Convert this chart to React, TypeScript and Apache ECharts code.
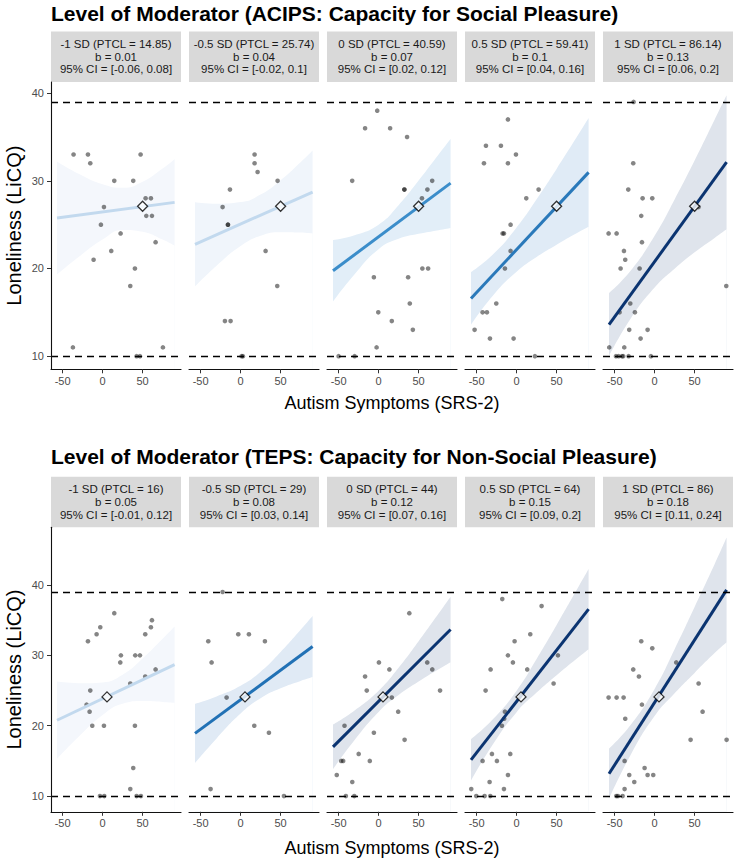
import React, { useEffect, useRef } from "react";
import * as echarts from "echarts";

// ---------- shared scales ----------
const X_TICKS = [-50, 0, 50];
const Y_TICKS = [10, 20, 30, 40];
const BAND_X = [-57, -30, 0, 25, 50, 75, 90];
const LINE_X = [-57, 90];
const REF_LINES = [10, 39];

// ---------- ACIPS row ----------
const ACIPS_TITLE = "Level of Moderator (ACIPS: Capacity for Social Pleasure)";
const ACIPS_LEVEL = ["-1 SD (PTCL = 14.85)", "-0.5 SD (PTCL = 25.74)", "0 SD (PTCL = 40.59)", "0.5 SD (PTCL = 59.41)", "1 SD (PTCL = 86.14)"];
const ACIPS_B = ["b = 0.01", "b = 0.04", "b = 0.07", "b = 0.1", "b = 0.13"];
const ACIPS_CI = ["95% CI = [-0.06, 0.08]", "95% CI = [-0.02, 0.1]", "95% CI = [0.02, 0.12]", "95% CI = [0.04, 0.16]", "95% CI = [0.06, 0.2]"];
const ACIPS_X = [
  [-36.3, -18.3, -15.4, 14.6, 38.3, 47.5, 1.7, -2.1, 53.75, 60.4, 54.6, 61.7, 22.5, 10.8, -11.25, 66.25, 40.4, 34.6, -37.1, 75.4, 42.5, 46.7],
  [17.5, 17.5, 21.25, -13.3, 46.25, -22.5, -15.8, -15.8, 31.25, 45.8, -19.6, -12.5, 1.25, 2.9],
  [-1.7, -16.9, 14.4, 35.6, -33, 32.2, 32.2, 61, 67, 54.2, 54.7, 61.9, -5.9, 36.9, 39, -0.4, 16.5, 42.8, -2.5, -50, -30],
  [-10.8, -38.3, -19.6, -40.8, -10.8, -0.8, 27.5, 12.1, -7.5, -17.5, -15.8, -7.5, -14.6, -25.4, -42.5, -37.1, -52.5, -33.3, -3.75, 22.9],
  [-26.25, -26.7, -32.9, -15, -2.9, -16.7, -57.5, -47.5, -15.8, -38.3, -36.7, -42.5, -18.75, 89.6, -30.4, -43.75, -24.6, -31.7, -8.75, -17.5, -56.7, -37.9, -48.3, -45, -40.8, -39.2, -32.5, -4.6, 55],
];
const ACIPS_Y = [
  [33, 33, 32, 30, 30, 33, 27, 25, 28, 28, 26, 26, 24, 22, 21, 23, 20, 18, 11, 11, 10, 10],
  [33, 32, 31, 29, 30, 27, 25, 25, 22, 18, 14, 14, 10, 10],
  [38, 36, 36, 35, 30, 29, 29, 29, 30, 28, 20, 20, 19, 19, 16, 15, 14, 13, 11, 10, 10],
  [37, 34, 34, 32, 32, 33, 29, 28, 25, 24, 24, 22, 20, 16, 15, 15, 13, 12, 12, 10],
  [39, 32, 29, 28, 28, 26, 24, 24, 23, 22, 21, 20, 20, 18, 16, 15, 15, 13, 13, 12, 11, 11, 10, 10, 10, 10, 10, 10, 27],
];
const ACIPS_LINE = [[25.75, 27.54], [22.75, 28.72], [19.74, 29.74], [16.58, 30.96], [13.6, 32.12]];
const ACIPS_BAND_UP = [
  [32.2, 30.8, 29.6, 29.2, 29.9, 31.4, 32.5],
  [27.55, 27.38, 27.57, 28.43, 30.07, 32.13, 33.46],
  [23.26, 23.8, 25.0, 27.22, 30.03, 33.01, 34.78],
  [19.58, 21.57, 24.67, 27.89, 31.36, 34.96, 37.16],
  [17.18, 19.73, 23.73, 27.88, 32.32, 36.97, 39.76],
];
const ACIPS_BAND_LO = [
  [19.3, 21.3, 23.3, 24.4, 24.2, 23.3, 22.6],
  [17.95, 20.32, 22.57, 23.73, 24.13, 24.09, 23.98],
  [16.22, 19.34, 22.2, 23.38, 23.95, 24.37, 24.62],
  [13.58, 16.87, 19.63, 21.31, 22.72, 24.02, 24.76],
  [10.02, 14.27, 17.83, 19.98, 21.84, 23.49, 24.48],
];
const ACIPS_MEAN = [50, 27.1];
const ACIPS_LINE_COLORS = ["#c2d9ee", "#c2d9ee", "#3b8dca", "#2a79ba", "#0b3471"];
const ACIPS_BAND_COLORS = ["#f4f7fc", "#f0f5fb", "#e2eef8", "#e0ebf6", "#dfe4ec"];

// ---------- TEPS row ----------
const TEPS_TITLE = "Level of Moderator (TEPS: Capacity for Non-Social Pleasure)";
const TEPS_LEVEL = ["-1 SD (PTCL = 16)", "-0.5 SD (PTCL = 29)", "0 SD (PTCL = 44)", "0.5 SD (PTCL = 64)", "1 SD (PTCL = 86)"];
const TEPS_B = ["b = 0.05", "b = 0.08", "b = 0.12", "b = 0.15", "b = 0.18"];
const TEPS_CI = ["95% CI = [-0.01, 0.12]", "95% CI = [0.03, 0.14]", "95% CI = [0.07, 0.16]", "95% CI = [0.09, 0.2]", "95% CI = [0.11, 0.24]"];
const TEPS_X = [
  [14.6, 61.7, 60.4, -2.9, -7.5, 53.3, -18.3, 22.9, 40.8, 46.7, 22.1, 66.25, 53.3, 34.6, -15.4, -20, -16.25, -12.9, 1.7, 40.4, 38.3, 34.6, -3.3, 2.1, 42.5, 47.9],
  [-22.5, -40.4, -2.9, 10.4, 30.4, -36.25, -17.5, 17.1, 35.4, -37.5, 54.2],
  [38.4, 0.4, 60.8, 13.5, 67.1, -16.9, -14.8, 76.8, 16.5, 24.5, -42.6, -5.9, 32.5, -24.9, -46.8, -44.3, -11, -52.3, -32.9, -40.9, -30.4],
  [-17.9, 31.25, 17.1, -2.5, -10.8, -4.6, 51.7, -32.5, 13.3, 46.25, -38.75, -14.6, -15.5, -18.4, -30.8, -7.9, -42.5, -24.6, -10.8, -33.75, -56.7, -15.8, -50.4, -40, -32.9],
  [-16.7, -2.9, 27.1, -26.7, -19.6, 55, -57.5, -47.5, -38.75, -15.8, 60, -36.7, 45, 90, -37.5, -12.5, -31.7, -8.75, -1.7, -25.4, -37.5, -47.9, -45.8, -40],
];
const TEPS_Y = [
  [36, 35, 34, 34, 33, 33, 32, 30, 30, 30, 29, 28, 27, 26, 25, 23, 22, 20, 20, 20, 14, 11, 10, 10, 10, 10],
  [39, 32, 33, 33, 32, 29, 24, 20, 19, 11, 10],
  [36, 29, 29, 28, 28, 27, 25, 25, 24, 22, 20, 19, 18, 16, 15, 15, 15, 13, 12, 10, 10],
  [38, 37, 33, 32, 30, 29, 30, 28, 28, 26, 25, 22, 21, 20, 16, 16, 15, 15, 13, 12, 11, 11, 10, 10, 10],
  [32, 31, 29, 28, 27, 26, 24, 24, 24, 23, 22, 21, 18, 18, 15, 14, 13, 13, 13, 12, 11, 10, 10, 10],
];
const TEPS_LINE = [[20.78, 28.68], [18.91, 31.26], [17.0, 33.68], [15.14, 36.58], [13.17, 39.3]];
const TEPS_BAND_UP = [
  [26.27, 26.04, 26.16, 27.25, 29.56, 32.35, 34.1],
  [23.11, 24.16, 25.67, 27.68, 30.48, 33.64, 35.61],
  [20.17, 22.17, 24.97, 28.24, 32.01, 35.95, 38.34],
  [18.08, 20.87, 24.99, 29.49, 34.32, 39.29, 42.29],
  [16.74, 20.1, 25.23, 30.87, 36.87, 42.94, 46.74],
];
const TEPS_BAND_LO = [
  [15.29, 18.42, 21.52, 23.11, 23.5, 23.39, 23.26],
  [14.71, 18.2, 21.73, 23.92, 25.32, 26.36, 26.91],
  [13.83, 17.97, 21.97, 24.36, 26.27, 28.01, 29.02],
  [12.2, 17.29, 21.93, 24.71, 27.18, 29.51, 30.87],
  [9.6, 15.84, 21.37, 24.61, 27.51, 30.32, 31.86],
];
const TEPS_MEAN = [5.5, 24.1];
const TEPS_LINE_COLORS = ["#c2d9ee", "#2171b5", "#0b3471", "#0b3471", "#0b3471"];
const TEPS_BAND_COLORS = ["#f4f7fc", "#e0eaf5", "#dfe4ec", "#dfe4ec", "#dfe4ec"];

const X_AXIS_TITLE = "Autism Symptoms (SRS-2)";
const Y_AXIS_TITLE = "Loneliness (LiCQ)";

// ---------- layout ----------
const FONT = '"Liberation Sans", Arial, Helvetica, sans-serif';
const PANEL_LEFTS = [51, 189, 327, 465, 603];
const PANEL_W = 130;
const ROWS = [
  { top: 82, height: 287.3, yMin: 8.5, yMax: 41.27, stripTop: 31.5, titleY: 13, xTitleY: 403 },
  { top: 527.3, height: 284.5, yMin: 7.77, yMax: 48.2, stripTop: 476.7, titleY: 456.5, xTitleY: 848 },
];

function buildOption() {
  const rowsData = [
    { title: ACIPS_TITLE, level: ACIPS_LEVEL, b: ACIPS_B, ci: ACIPS_CI, xs: ACIPS_X, ys: ACIPS_Y, line: ACIPS_LINE, up: ACIPS_BAND_UP, lo: ACIPS_BAND_LO, mean: ACIPS_MEAN, lc: ACIPS_LINE_COLORS, bc: ACIPS_BAND_COLORS },
    { title: TEPS_TITLE, level: TEPS_LEVEL, b: TEPS_B, ci: TEPS_CI, xs: TEPS_X, ys: TEPS_Y, line: TEPS_LINE, up: TEPS_BAND_UP, lo: TEPS_BAND_LO, mean: TEPS_MEAN, lc: TEPS_LINE_COLORS, bc: TEPS_BAND_COLORS },
  ];
  const grid: any[] = [];
  const xAxis: any[] = [];
  const yAxis: any[] = [];
  const series: any[] = [];
  const graphics: any[] = [];

  rowsData.forEach((rd, r) => {
    const row = ROWS[r];
    graphics.push({
      type: "text", x: 51, y: row.titleY, z: 10,
      style: { text: rd.title, fontFamily: FONT, fontSize: 21, fontWeight: "bold", fill: "#000", align: "left", verticalAlign: "middle" },
    });
    graphics.push({
      type: "text", x: 392, y: row.xTitleY, z: 10,
      style: { text: X_AXIS_TITLE, fontFamily: FONT, fontSize: 18, fill: "#000", align: "center", verticalAlign: "middle" },
    });
    graphics.push({
      type: "text", x: 14, y: row.top + row.height / 2, rotation: Math.PI / 2, z: 10,
      style: { text: Y_AXIS_TITLE, fontFamily: FONT, fontSize: 20, fill: "#000", align: "center", verticalAlign: "middle" },
    });

    for (let p = 0; p < 5; p++) {
      const idx = r * 5 + p;
      const left = PANEL_LEFTS[p];
      graphics.push({
        type: "rect", z: 5,
        shape: { x: left, y: row.stripTop, width: PANEL_W, height: row.top - row.stripTop },
        style: { fill: "#d9d9d9" },
      });
      graphics.push({
        type: "text", x: left + PANEL_W / 2, y: (row.stripTop + row.top) / 2, z: 6,
        style: {
          text: [rd.level[p], rd.b[p], rd.ci[p]].join("\n"),
          fontFamily: FONT, fontSize: 11.5, lineHeight: 12.6, fill: "#1a1a1a", align: "center", verticalAlign: "middle",
        },
      });

      grid.push({ left, top: row.top, width: PANEL_W, height: row.height, containLabel: false, outerBoundsMode: "none" });
      xAxis.push({
        type: "value", gridIndex: idx, min: -64.5, max: 98, z: 10,
        axisLine: { show: true, onZero: false, lineStyle: { color: "#111", width: 1.1 } },
        axisTick: { show: true, customValues: X_TICKS, length: 4, lineStyle: { color: "#333", width: 1 } },
        axisLabel: { show: true, customValues: X_TICKS, margin: 6, color: "#4d4d4d", fontSize: 11, fontFamily: FONT },
        splitLine: { show: false },
      });
      yAxis.push({
        type: "value", gridIndex: idx, min: row.yMin, max: row.yMax, show: p === 0, z: 10,
        axisLine: { show: p === 0, onZero: false, lineStyle: { color: "#111", width: 1.1 } },
        axisTick: { show: p === 0, customValues: Y_TICKS, length: 4, lineStyle: { color: "#333", width: 1 } },
        axisLabel: { show: p === 0, customValues: Y_TICKS, margin: 7, color: "#4d4d4d", fontSize: 11, fontFamily: FONT },
        splitLine: { show: false },
      });

      // confidence band: upper curve filled down to the axis floor, then lower curve blanked out in white
      series.push({
        type: "line", xAxisIndex: idx, yAxisIndex: idx, smooth: true, symbol: "none", silent: true, z: 1,
        data: BAND_X.map((x, i) => [x, rd.up[p][i]]),
        lineStyle: { width: 0, opacity: 0 },
        areaStyle: { color: rd.bc[p], opacity: 1, origin: "start" },
        emphasis: { disabled: true },
      });
      series.push({
        type: "line", xAxisIndex: idx, yAxisIndex: idx, smooth: true, symbol: "none", silent: true, z: 1,
        data: BAND_X.map((x, i) => [x, rd.lo[p][i]]),
        lineStyle: { width: 0, opacity: 0 },
        areaStyle: { color: "#ffffff", opacity: 1, origin: "start" },
        emphasis: { disabled: true },
      });
      series.push({
        type: "scatter", xAxisIndex: idx, yAxisIndex: idx, symbolSize: 4.6, silent: true, z: 3,
        data: rd.xs[p].map((x, i) => [x, rd.ys[p][i]]),
        itemStyle: { color: "rgba(0,0,0,0.6)" },
        markLine: {
          silent: true, symbol: ["none", "none"], label: { show: false },
          lineStyle: { color: "#000", type: [7, 5], width: 1.3 },
          data: REF_LINES.map((v) => ({ yAxis: v })),
          emphasis: { disabled: true },
        },
      });
      series.push({
        type: "line", xAxisIndex: idx, yAxisIndex: idx, symbol: "none", silent: true, z: 4,
        data: LINE_X.map((x, i) => [x, rd.line[p][i]]),
        lineStyle: { color: rd.lc[p], width: 3 },
        itemStyle: { color: rd.lc[p] },
        emphasis: { disabled: true },
      });
      series.push({
        type: "scatter", xAxisIndex: idx, yAxisIndex: idx, symbol: "diamond", symbolSize: 10, silent: true, z: 5,
        data: [rd.mean],
        itemStyle: { color: "#fff", borderColor: "#000", borderWidth: 1.3 },
      });
    }
  });

  return {
    animation: false,
    backgroundColor: "#ffffff",
    grid, xAxis, yAxis, series,
    graphic: { elements: graphics },
  };
}

export default function App() {
  const ref = useRef<HTMLDivElement>(null);
  useEffect(() => {
    if (!ref.current) return;
    const chart = echarts.init(ref.current, null, { renderer: "svg" });
    chart.setOption(buildOption() as any);
    return () => chart.dispose();
  }, []);
  return <div ref={ref} style={{ position: "absolute", left: 0, top: 0, width: 736, height: 861 }} />;
}
